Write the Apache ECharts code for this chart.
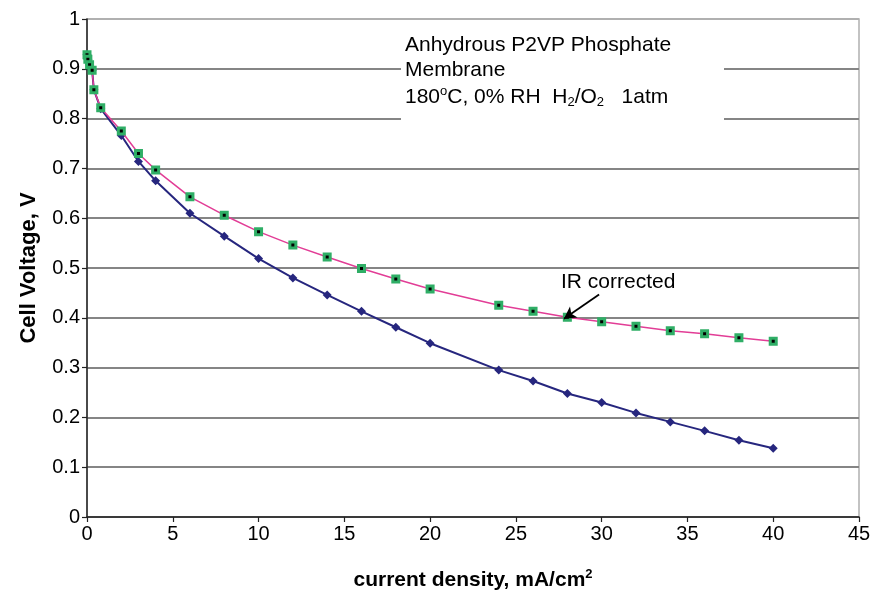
<!DOCTYPE html>
<html>
<head>
<meta charset="utf-8">
<script src="https://cdn.jsdelivr.net/npm/echarts@6/dist/echarts.min.js"></script>
<style>
html,body{margin:0;padding:0;background:#fff;}
#chart{width:873px;height:592px;}
</style>
</head>
<body>
<div id="chart"></div>
<script>
// current density, mA/cm2
var currentDensity = [0, 0.05, 0.15, 0.3, 0.4, 0.8, 2, 3, 4, 6, 8, 10, 12, 14, 16, 18, 20, 24, 26, 28, 30, 32, 34, 36, 38, 40];
// measured cell voltage, V
var measuredVoltage = [0.928, 0.919, 0.908, 0.897, 0.858, 0.820, 0.766, 0.714, 0.675, 0.610, 0.564, 0.519, 0.480, 0.446, 0.413, 0.381, 0.349, 0.295, 0.273, 0.248, 0.230, 0.209, 0.191, 0.173, 0.154, 0.138];
// IR corrected cell voltage, V
var irCorrectedVoltage = [0.928, 0.919, 0.908, 0.897, 0.858, 0.822, 0.775, 0.730, 0.697, 0.643, 0.606, 0.573, 0.546, 0.522, 0.499, 0.478, 0.458, 0.425, 0.413, 0.401, 0.392, 0.383, 0.374, 0.368, 0.360, 0.353];
// arrow annotation (data coords): from, to
var arrowFrom = [29.85, 0.447];
var arrowTo = [27.8, 0.398];

function pairs(xs, ys) { return xs.map(function (x, i) { return [x, ys[i]]; }); }

var font = '"Liberation Sans", Arial, sans-serif';
var chart = echarts.init(document.getElementById('chart'));
var gridColors = [];
for (var i = 0; i < 11; i++) gridColors.push(i === 10 ? '#b0b0b0' : '#858585');

chart.setOption({
  animation: false,
  backgroundColor: '#fff',
  grid: { left: 87, right: 14, top: 19, bottom: 75, outerBoundsMode: 'none', containLabel: false,
    show: true, borderColor: '#b0b0b0', borderWidth: 1.5, backgroundColor: 'transparent' },
  xAxis: {
    type: 'value', min: 0, max: 45, interval: 5,
    axisLine: { show: true, onZero: false, lineStyle: { color: '#222', width: 1.5 } },
    axisTick: { show: true, length: 5, lineStyle: { color: '#222', width: 1.2 } },
    axisLabel: { color: '#000', fontSize: 20, fontFamily: font, margin: 7 },
    splitLine: { show: false },
    name: '{n|current density, mA/cm}{s|2}',
    nameLocation: 'middle', nameGap: 51,
    nameTextStyle: {
      rich: {
        n: { fontSize: 21, fontWeight: 'bold', fontFamily: font, color: '#000' },
        s: { fontSize: 13, fontWeight: 'bold', fontFamily: font, color: '#000', padding: [0, 0, 12, 0] }
      }
    }
  },
  yAxis: {
    type: 'value', min: 0, max: 1, interval: 0.1,
    axisLine: { show: true, onZero: false, lineStyle: { color: '#222', width: 1.5 } },
    axisTick: { show: true, length: 5, lineStyle: { color: '#222', width: 1.2 } },
    axisLabel: { color: '#000', fontSize: 20, fontFamily: font, margin: 7,
      formatter: function (v) { return Math.round(v * 10) / 10 + ''; } },
    splitLine: { show: true, lineStyle: { color: gridColors, width: 1.8 } },
    name: 'Cell Voltage, V', nameLocation: 'middle', nameGap: 47,
    nameTextStyle: { fontSize: 22, fontWeight: 'bold', fontFamily: font, color: '#000' }
  },
  series: [
    {
      name: 'measured', type: 'line', data: pairs(currentDensity, measuredVoltage),
      symbol: 'diamond', symbolSize: 9, showSymbol: true,
      lineStyle: { color: '#26267e', width: 2 },
      itemStyle: { color: '#26267e' }, z: 2
    },
    {
      name: 'IR corrected', type: 'line', data: pairs(currentDensity, irCorrectedVoltage),
      symbol: 'rect', symbolSize: 6, showSymbol: true,
      lineStyle: { color: '#e23d96', width: 1.5 },
      itemStyle: { color: '#000', borderColor: '#2fae66', borderWidth: 3 }, z: 3
    },
    {
      name: 'arrow', type: 'line', data: [], z: 10,
      markLine: {
        silent: true, animation: false,
        symbol: ['none', 'arrow'], symbolSize: [10, 12],
        label: { show: false },
        lineStyle: { color: '#000', width: 1.8, type: 'solid' },
        data: [[{ coord: arrowFrom }, { coord: arrowTo }]]
      }
    }
  ],
  graphic: [
    { type: 'rect', z: 5, shape: { x: 401, y: 26, width: 323, height: 98 }, style: { fill: '#fff' } },
    { type: 'text', z: 6, left: 405, top: 35, style: { text: 'Anhydrous P2VP Phosphate', font: '21px ' + font, fill: '#000' } },
    { type: 'text', z: 6, left: 405, top: 60, style: { text: 'Membrane', font: '21px ' + font, fill: '#000' } },
    { type: 'text', z: 6, left: 405, top: 85, style: {
        text: '{a|180}{s|o}{a|C, 0% RH  H}{b|2}{a|/O}{b|2}{a|   1atm}',
        rich: {
          a: { fontSize: 21, fontFamily: font, color: '#000' },
          s: { fontSize: 13, fontFamily: font, color: '#000', padding: [0, 0, 12, 0] },
          b: { fontSize: 13, fontFamily: font, color: '#000', padding: [10, 0, 0, 0] }
        } } },
    { type: 'text', z: 6, left: 561, top: 272, style: { text: 'IR corrected', font: '21px ' + font, fill: '#000' } }
  ]
});
</script>
</body>
</html>
